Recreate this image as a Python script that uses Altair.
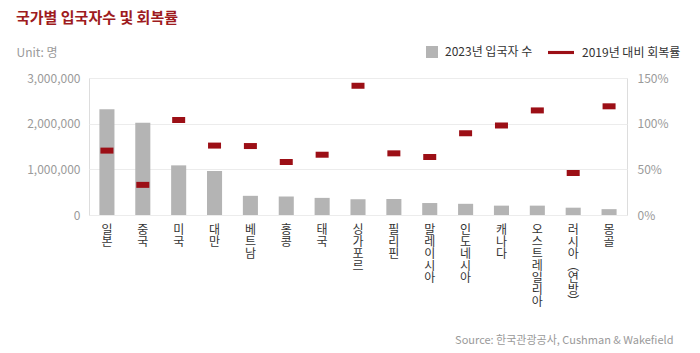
import altair as alt
import pandas as pd

countries = ["일본", "중국", "미국", "대만", "베트남", "홍콩", "태국", "싱가포르", "필리핀",
             "말레이시아", "인도네시아", "캐나다", "오스트레일리아", "러시아(연방)", "몽골"]
visitors = [2316000, 2020000, 1087000, 964000, 420000, 405000, 375000, 345000, 350000,
            262000, 245000, 205000, 205000, 160000, 128000]
recovery = [0.705, 0.33, 1.04, 0.76, 0.755, 0.58, 0.66, 1.415, 0.675,
            0.635, 0.895, 0.98, 1.145, 0.46, 1.19]
series_names = ["2023년 입국자 수", "2019년 대비 회복률"]

df = pd.DataFrame({"country": countries, "visitors": visitors, "recovery": recovery,
                   "s1": series_names[0], "s2": series_names[1]})

FONT = "Noto Sans CJK KR"
RED = "#9c0f16"
GRAY = "#b4b4b4"

x = alt.X("country:N", sort=countries,
          scale=alt.Scale(paddingInner=0.58, paddingOuter=0.29),
          axis=alt.Axis(title="Source: 한국관광공사, Cushman & Wakefield",
                        titleX=584, titleY=125, titleAlign="right", titleBaseline="middle",
                        titleFontSize=11, titleFontWeight="normal", titleColor="#9a9a9a",
                        titleFont=FONT,
                        labelAngle=0, labelBaseline="top", labelAlign="center",
                        labelExpr="split(replace(replace(datum.label,'(','︵'),')','︶'),'')",
                        labelLineHeight=12, labelFontSize=12, labelColor="#333333",
                        labelPadding=9, labelFont=FONT, labelOverlap=False,
                        domain=False, ticks=False))

bars = alt.Chart(df).mark_bar().encode(
    x=x,
    y=alt.Y("visitors:Q", scale=alt.Scale(domain=[0, 3000000]),
            axis=alt.Axis(values=[0, 1000000, 2000000, 3000000], format=",.0f",
                          title="Unit: 명", titleAngle=0, titleX=-73, titleY=-26,
                          titleAlign="left", titleBaseline="middle", titleFontSize=12,
                          titleFontWeight="normal", titleColor="#9a9a9a", titleFont=FONT,
                          labelFontSize=12, labelColor="#9a9a9a", labelPadding=9,
                          labelFont=FONT,
                          domain=False, ticks=False, grid=True, gridColor="#ececec")),
    fill=alt.Fill("s1:N",
                  scale=alt.Scale(domain=[series_names[0]], range=[GRAY]),
                  legend=alt.Legend(title=None, orient="none", legendX=337, legendY=-32,
                                    symbolType="square", symbolSize=144, symbolStrokeWidth=0,
                                    labelFontSize=12, labelColor="#333333", labelFont=FONT,
                                    labelOffset=7, padding=0)),
)

ticks = alt.Chart(df).mark_tick(size=13, thickness=6, opacity=1).encode(
    x=x,
    y=alt.Y("recovery:Q", scale=alt.Scale(domain=[0, 1.5]),
            axis=alt.Axis(orient="right", values=[0, 0.5, 1, 1.5], format=".0%", title=None,
                          labelFontSize=12, labelColor="#9a9a9a", labelPadding=10,
                          labelFont=FONT,
                          domain=False, ticks=False, grid=False)),
    color=alt.Color("s2:N",
                    scale=alt.Scale(domain=[series_names[1]], range=[RED]),
                    legend=alt.Legend(title=None, orient="none", legendX=459, legendY=-38.5,
                                      symbolType="M-1,-0.12H1V0.12H-1Z", symbolSize=676,
                                      symbolStrokeWidth=0, symbolFillColor=RED,
                                      labelFontSize=12, labelColor="#333333", labelFont=FONT,
                                      labelOffset=8, padding=0)),
)

chart = alt.layer(bars, ticks).resolve_scale(y="independent").properties(
    width=538, height=137,
    autosize=alt.AutoSizeParams(type="none"),
    padding={"left": 89, "top": 78, "right": 73, "bottom": 138},
    title=alt.TitleParams("국가별 입국자수 및 회복률", anchor="start", offset=14,
                          fontSize=15, fontWeight="bold", color="#9e1b20", font=FONT),
).configure_view(stroke=None).configure(font=FONT)

chart.save("out.html", embed_options={"renderer": "svg", "actions": False})
